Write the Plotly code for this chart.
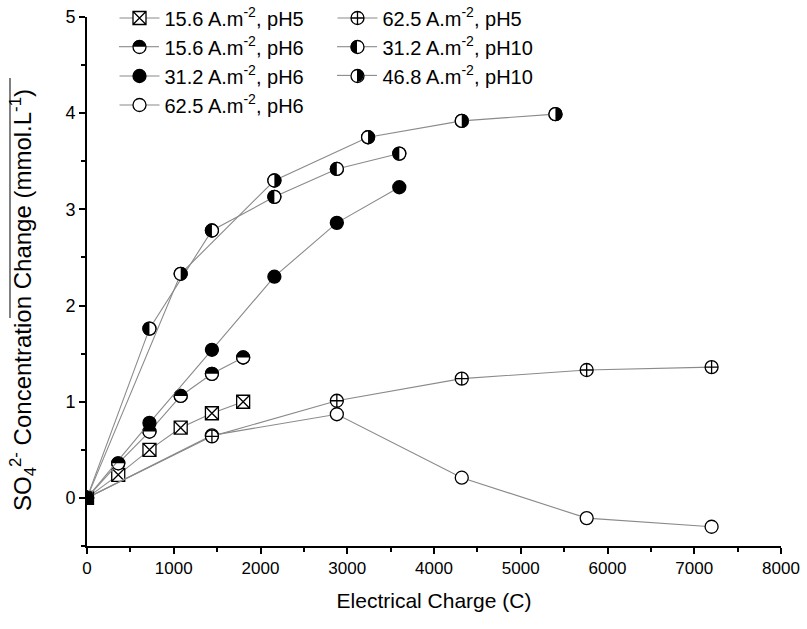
import plotly.graph_objects as go

# ---------------- data ----------------
x_156 = [0, 360, 720, 1080, 1440, 1800]
y_156_ph5 = [0, 0.24, 0.50, 0.73, 0.88, 1.00]
y_156_ph6 = [0, 0.36, 0.69, 1.06, 1.29, 1.46]

x_312 = [0, 720, 1440, 2160, 2880, 3600]
y_312_ph6 = [0, 0.78, 1.54, 2.30, 2.86, 3.23]
y_312_ph10 = [0, 1.76, 2.78, 3.13, 3.42, 3.58]

x_468 = [0, 1080, 2160, 3240, 4320, 5400]
y_468_ph10 = [0, 2.33, 3.30, 3.75, 3.92, 3.99]

x_625 = [0, 1440, 2880, 4320, 5760, 7200]
y_625_ph5 = [0, 0.64, 1.01, 1.24, 1.33, 1.36]
y_625_ph6 = [0, 0.65, 0.87, 0.21, -0.21, -0.30]

x_ticks = [0, 1000, 2000, 3000, 4000, 5000, 6000, 7000, 8000]
y_ticks = [0, 1, 2, 3, 4, 5]

FONT = "Liberation Sans, Arial, sans-serif"
LINE_C = "#8a8a8a"
LINE_W = 1.1
MS = 13

# figure geometry (body margin removed by post_script)
W, H = 807, 629
ML, MR, MT, MB = 87, 26, 17, 83
PW, PH = W - ML - MR, H - MT - MB


def px_to_paper_x(px):
    return (px - ML) / PW


def px_to_paper_y(py):
    return (H - MB - py) / PH


# series: (name, x, y, symbol, fill, half, legend)
series = [
    ("15.6 A.m<sup>-2</sup>, pH5", x_156, y_156_ph5, "square-x", "white", None, "legend"),
    ("15.6 A.m<sup>-2</sup>, pH6", x_156, y_156_ph6, "circle", "white", "top", "legend"),
    ("31.2 A.m<sup>-2</sup>, pH6", x_312, y_312_ph6, "circle", "black", None, "legend"),
    ("62.5 A.m<sup>-2</sup>, pH6", x_625, y_625_ph6, "circle", "white", None, "legend"),
    ("62.5 A.m<sup>-2</sup>, pH5", x_625, y_625_ph5, "circle-cross", "white", None, "legend2"),
    ("31.2 A.m<sup>-2</sup>, pH10", x_312, y_312_ph10, "circle", "white", "left", "legend2"),
    ("46.8 A.m<sup>-2</sup>, pH10", x_468, y_468_ph10, "circle", "white", "right", "legend2"),
]

fig = go.Figure()
for name, xs, ys, sym, fill, half, leg in series:
    if half is None:
        fig.add_trace(go.Scatter(
            x=xs, y=ys, name=name, mode="lines+markers", legend=leg,
            line=dict(color=LINE_C, width=LINE_W),
            marker=dict(symbol=sym, size=MS, color=fill,
                        line=dict(color="black", width=1.3)),
        ))
    else:
        # legend carrier: transparent circle so the half fill beneath shows
        fig.add_trace(go.Scatter(
            x=xs, y=ys, name=name, mode="markers", legend=leg, legendgroup=name,
            marker=dict(symbol="circle", size=MS, color="rgba(0,0,0,0)",
                        line=dict(color="black", width=1.3)),
        ))
        fig.add_trace(go.Scatter(
            x=xs, y=ys, name=name, mode="lines+markers", legendgroup=name,
            showlegend=False,
            line=dict(color=LINE_C, width=LINE_W),
            marker=dict(symbol="circle", size=MS, color="white",
                        line=dict(color="black", width=1.3)),
        ))

# half-filled markers drawn as pixel-sized shapes anchored to the points
r = MS / 2.0
k = 0.5523 * r


def half_path(side):
    if side == "top":
        return f"M{-r},0 C{-r},{k} {-k},{r} 0,{r} C{k},{r} {r},{k} {r},0 Z"
    if side == "left":
        return f"M0,{r} C{-k},{r} {-r},{k} {-r},0 C{-r},{-k} {-k},{-r} 0,{-r} Z"
    return f"M0,{r} C{k},{r} {r},{k} {r},0 C{r},{-k} {k},{-r} 0,{-r} Z"


def half_shape(xref, yref, xa, ya, side):
    return dict(type="path", xref=xref, yref=yref,
                xsizemode="pixel", ysizemode="pixel",
                xanchor=xa, yanchor=ya, path=half_path(side),
                fillcolor="black", line=dict(width=0), layer="above")


shapes = []
for name, xs, ys, sym, fill, half, leg in series:
    if half is None:
        continue
    for xv, yv in zip(xs, ys):
        shapes.append(half_shape("x", "y", xv, yv, half))

# legend layout (two columns)
LEG1_X, LEG2_X = 139, 357
ROW0, ROW_STEP = 18, 28.7
ROW_Y = [ROW0 + i * ROW_STEP for i in range(4)]
LEG_TOP = ROW_Y[0] - 19.5
SYM_OFF = 24.5
LINE_HALF = 20


def legend_sample(cx, cy, side):
    out = [half_shape("paper", "paper", px_to_paper_x(cx), px_to_paper_y(cy), side)]
    for a, b in ((cx - LINE_HALF, cx - r), (cx + r, cx + LINE_HALF)):
        out.append(dict(type="line", xref="paper", yref="paper",
                        x0=px_to_paper_x(a), x1=px_to_paper_x(b),
                        y0=px_to_paper_y(cy), y1=px_to_paper_y(cy),
                        line=dict(color=LINE_C, width=LINE_W), layer="above"))
    return out


shapes += legend_sample(LEG1_X, ROW_Y[1], "top")
shapes += legend_sample(LEG2_X, ROW_Y[1], "left")
shapes += legend_sample(LEG2_X, ROW_Y[2], "right")

# overline artifact next to the y title
shapes.append(dict(type="line", xref="paper", yref="paper",
                   x0=px_to_paper_x(10), x1=px_to_paper_x(10),
                   y0=px_to_paper_y(318), y1=px_to_paper_y(78),
                   line=dict(color="black", width=1)))

fig.update_layout(
    width=W, height=H,
    margin=dict(l=ML, r=MR, t=MT, b=MB, autoexpand=False),
    paper_bgcolor="white", plot_bgcolor="white",
    font=dict(family=FONT, size=17, color="black"),
    shapes=shapes,
    hovermode=False,
    legend=dict(x=px_to_paper_x(LEG1_X - SYM_OFF), y=px_to_paper_y(LEG_TOP),
                xanchor="left", yanchor="top",
                bgcolor="rgba(0,0,0,0)", font=dict(size=20),
                itemwidth=40, tracegroupgap=0),
    legend2=dict(x=px_to_paper_x(LEG2_X - SYM_OFF), y=px_to_paper_y(LEG_TOP),
                 xanchor="left", yanchor="top",
                 bgcolor="rgba(0,0,0,0)", font=dict(size=20),
                 itemwidth=40, tracegroupgap=0),
    annotations=[dict(
        text="SO<sub>4</sub><sup>2-</sup> Concentration Change (mmol.L<sup>-1</sup>)",
        xref="paper", yref="paper", x=px_to_paper_x(23), y=px_to_paper_y(300),
        xanchor="center", yanchor="middle", textangle=-90, showarrow=False,
        font=dict(size=24, family=FONT))],
)

fig.update_xaxes(
    range=[0, 8000], tickvals=x_ticks, ticktext=[str(v) for v in x_ticks],
    showgrid=False, zeroline=False, showline=True, linecolor="black", linewidth=2,
    ticks="outside", ticklen=6, tickwidth=2, tickcolor="black",
    minor=dict(ticks="outside", ticklen=4, tickwidth=2, tickcolor="black", dtick=500, tick0=0),
    tickfont=dict(size=17), ticklabeloverflow="allow",
    title=dict(text="Electrical Charge (C)", font=dict(size=21), standoff=16),
)
fig.update_yaxes(
    range=[-0.5, 5], tickvals=y_ticks, ticktext=[str(v) for v in y_ticks],
    showgrid=False, zeroline=False, showline=True, linecolor="black", linewidth=2,
    ticks="outside", ticklen=6, tickwidth=2, tickcolor="black",
    minor=dict(ticks="outside", ticklen=4, tickwidth=2, tickcolor="black", dtick=0.5, tick0=0),
    tickfont=dict(size=18),
)

fig.write_html("out.html", config={"displayModeBar": False},
               post_script="document.body.style.margin='0px';")
